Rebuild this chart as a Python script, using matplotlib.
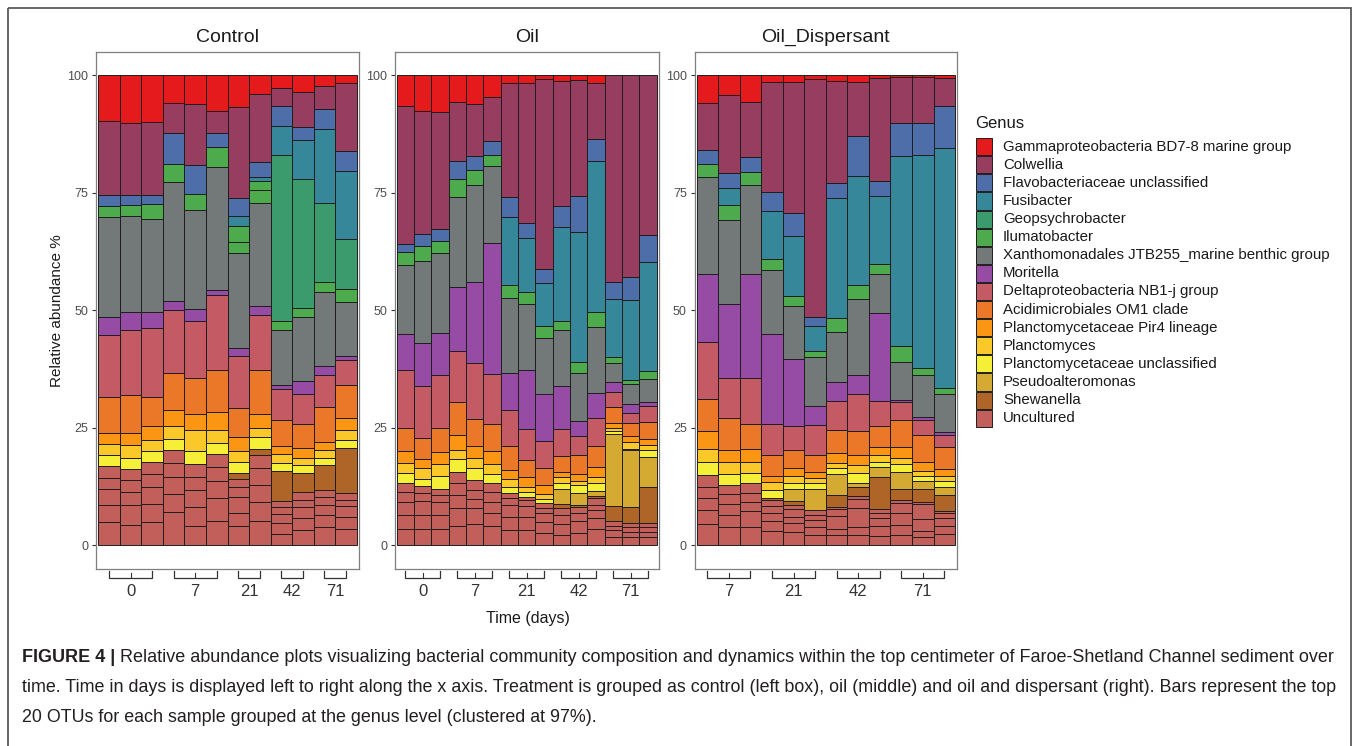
import numpy as np
import matplotlib
matplotlib.use("Agg")
import matplotlib.pyplot as plt
from matplotlib import font_manager
from matplotlib.patches import Rectangle
from matplotlib.transforms import blended_transform_factory

W, H, DPI = 1358, 746, 100

plt.rcParams["font.family"] = ["Liberation Sans", "DejaVu Sans"]

# ---------------------------------------------------------------- genera
genus_names = [
    "Gammaproteobacteria BD7-8 marine group",
    "Colwellia",
    "Flavobacteriaceae unclassified",
    "Fusibacter",
    "Geopsychrobacter",
    "Ilumatobacter",
    "Xanthomonadales JTB255_marine benthic group",
    "Moritella",
    "Deltaproteobacteria NB1-j group",
    "Acidimicrobiales OM1 clade",
    "Planctomycetaceae Pir4 lineage",
    "Planctomyces",
    "Planctomycetaceae unclassified",
    "Pseudoalteromonas",
    "Shewanella",
    "Uncultured",
]
genus_codes = "RCFBGIXMDOPLYAHU"
genus_colors = [
    "#E41A1C", "#973D5F", "#4E6EAA", "#37879B", "#3C9B6C", "#4DAA4D",
    "#737978", "#964BA5", "#C35A64", "#EB7828", "#FA9614", "#FAC828",
    "#F5F037", "#D4AA32", "#AF6428", "#C25F5A",
]

# ---------------------------------------------------------------- samples
# Each bar: OTU genus codes from bottom to top, and the cumulative relative
# abundance (%) reached at the top of each OTU.
control_days = ["0", "7", "21", "42", "71"]
control_group_sizes = [3, 3, 2, 2, 2]
control_bars = [
    ("UUUUUYLPODMXIFCR", [4.9, 8.5, 12.0, 14.4, 17.0, 19.3, 21.6, 24.0, 31.5, 44.7, 48.5, 69.9, 72.1, 74.5, 90.3, 100]),
    ("UUUUUYLPODMXIFCR", [4.4, 8.6, 11.4, 13.9, 16.2, 18.5, 21.3, 23.9, 31.9, 45.9, 49.7, 70.0, 72.4, 74.5, 89.7, 100]),
    ("UUUUUYLPODMXIFCR", [4.9, 8.8, 12.5, 15.2, 17.7, 20.0, 22.4, 25.3, 31.6, 46.2, 49.7, 69.5, 72.6, 74.5, 90.1, 100]),
    ("UUUUUYLPODMXIFCR", [7.2, 10.9, 14.6, 17.5, 20.2, 22.6, 25.3, 28.9, 36.7, 50.0, 52.0, 77.3, 81.0, 87.7, 94.1, 100]),
    ("UUUUUYLPODMXIFCR", [4.2, 8.1, 11.8, 14.6, 17.3, 20.1, 24.6, 27.9, 35.7, 47.7, 50.2, 71.3, 74.8, 80.9, 93.8, 100]),
    ("UUUUUYLPODMXIFCR", [5.3, 10.0, 13.6, 16.6, 19.4, 21.7, 24.6, 28.4, 37.4, 53.2, 54.4, 80.4, 84.8, 87.7, 92.3, 100]),
    ("UUUUUHYLPODMXIIBFCR", [4.2, 7.0, 10.4, 12.4, 14.1, 15.5, 17.7, 20.1, 23.1, 29.2, 40.3, 41.9, 62.1, 64.6, 68.0, 70.1, 73.9, 93.3, 100]),
    ("UUUUUHYLPODMXIIBFCR", [5.1, 9.3, 12.8, 16.4, 19.2, 20.6, 23.0, 24.9, 27.9, 37.4, 49.0, 50.9, 72.7, 75.6, 77.5, 78.4, 81.6, 95.9, 100]),
    ("UUUUUHYLPODMXIGBFCR", [2.4, 4.7, 6.6, 8.2, 9.5, 15.9, 17.5, 19.4, 21.2, 26.7, 33.2, 34.1, 45.7, 47.8, 83.1, 89.2, 93.5, 97.3, 100]),
    ("UUUUUHYLPODMXIGBFCR", [3.3, 5.8, 8.1, 9.7, 11.4, 15.3, 17.1, 18.7, 20.8, 25.8, 32.3, 35.0, 48.6, 50.4, 77.8, 86.2, 89.0, 96.3, 100]),
    ("UUUUUHYLPODMXIGBFCR", [4.0, 6.5, 8.6, 10.4, 11.8, 17.1, 18.5, 20.4, 22.1, 29.4, 36.2, 38.2, 53.8, 55.9, 72.7, 88.5, 92.7, 97.7, 100]),
    ("UUUUUHYLPODMXIGBFCR", [3.6, 6.1, 8.3, 9.7, 11.1, 20.8, 22.4, 24.5, 27.0, 34.1, 39.4, 40.3, 51.8, 54.5, 65.2, 79.7, 83.9, 98.4, 100]),
]

oil_days = ["0", "7", "21", "42", "71"]
oil_group_sizes = [3, 3, 3, 3, 3]
oil_bars = [
    ("UUUUUYLPODMXIFCR", [3.4, 6.5, 9.3, 11.4, 13.3, 15.5, 17.5, 20.1, 25.0, 37.3, 44.9, 59.6, 62.4, 64.0, 93.4, 100]),
    ("UUUUUYLPODMXIFCR", [3.4, 6.5, 9.5, 11.1, 12.7, 14.1, 16.4, 18.4, 22.8, 33.8, 43.1, 60.5, 63.7, 66.3, 92.4, 100]),
    ("UUUUUYLPODMXIFCR", [3.4, 6.5, 9.3, 10.7, 12.1, 14.8, 17.3, 19.8, 24.9, 36.2, 45.1, 62.1, 64.7, 67.2, 92.1, 100]),
    ("UUUUUYLPODMXIFCR", [4.2, 7.9, 10.7, 13.2, 15.7, 18.3, 20.4, 23.5, 30.4, 41.4, 55.0, 74.1, 77.8, 81.8, 94.3, 100]),
    ("UUUUUYLPODMXIFCR", [4.6, 7.9, 9.9, 11.8, 13.9, 16.4, 18.7, 21.2, 26.8, 38.7, 56.1, 76.6, 79.9, 82.8, 93.8, 100]),
    ("UUUUUYLPODMXIFCR", [4.2, 6.8, 9.3, 11.4, 13.3, 15.2, 17.3, 20.1, 25.8, 36.4, 64.4, 80.7, 83.1, 86.0, 95.3, 100]),
    ("UUUUUYLPODMXIBFCR", [3.3, 6.0, 8.6, 10.0, 11.1, 12.4, 14.1, 16.0, 21.1, 28.8, 36.6, 52.7, 55.4, 69.9, 74.1, 98.4, 100]),
    ("UUUUUYLPODMXIBFCR", [3.2, 6.1, 8.3, 9.7, 10.4, 11.4, 12.5, 14.6, 18.2, 24.7, 37.2, 51.3, 53.8, 65.3, 68.5, 98.4, 100]),
    ("UUUUUYLPODMXIBFCR", [2.6, 4.9, 6.8, 7.9, 9.0, 9.9, 10.9, 12.8, 16.4, 22.2, 32.1, 44.0, 46.6, 55.7, 58.8, 99.1, 100]),
    ("UUUUHAYLPODMXIBFCR", [2.2, 4.6, 6.5, 7.9, 8.8, 12.0, 13.3, 14.6, 15.7, 19.0, 24.7, 33.9, 45.7, 47.8, 67.8, 72.2, 98.7, 100]),
    ("UUUUHAYLPODMXIBFCR", [2.6, 5.1, 6.8, 8.1, 8.6, 11.1, 12.8, 13.6, 15.2, 19.2, 23.3, 26.5, 36.7, 39.1, 66.7, 74.3, 98.9, 100]),
    ("UUUUUHAYLPODMXIBFCR", [3.6, 5.8, 7.5, 8.6, 10.0, 10.5, 11.6, 13.3, 14.6, 16.7, 21.2, 27.0, 32.5, 46.5, 49.7, 81.8, 86.3, 98.4, 100]),
    ("UUUUHAYLPODMXIBFC", [1.8, 3.2, 4.2, 5.1, 8.3, 23.8, 24.3, 24.9, 26.0, 29.5, 32.6, 34.8, 38.7, 40.1, 52.3, 55.9, 100]),
    ("UUUUHAYLPODMXIBFC", [1.7, 2.9, 4.0, 4.8, 8.1, 20.2, 20.6, 21.9, 23.3, 26.0, 28.1, 30.1, 34.3, 35.2, 52.2, 57.0, 100]),
    ("UUUUHAYLPODMXIBFC", [1.7, 2.9, 4.0, 4.8, 12.5, 18.9, 20.3, 21.4, 22.6, 26.3, 29.6, 30.4, 35.3, 37.0, 60.2, 66.0, 100]),
]

dispersant_days = ["7", "21", "42", "71"]
dispersant_group_sizes = [3, 3, 3, 3]
dispersant_bars = [
    ("UUUUUYLPODMXIFCR", [4.6, 7.5, 10.0, 12.4, 15.0, 17.8, 20.5, 24.3, 31.1, 43.3, 57.8, 78.3, 81.0, 84.1, 94.0, 100]),
    ("UUUUUYLPODMXIBFCR", [3.9, 6.5, 8.8, 10.9, 12.8, 15.2, 17.8, 20.3, 27.0, 35.7, 51.3, 69.2, 72.4, 75.9, 79.1, 95.8, 100]),
    ("UUUUUYLPODMXIFCR", [4.0, 7.4, 9.3, 11.2, 13.2, 15.5, 17.7, 20.6, 25.9, 35.7, 57.8, 76.6, 79.3, 82.5, 94.3, 100]),
    ("UUUUUHYLPODMXIBFCR", [3.0, 5.1, 6.8, 8.4, 9.7, 10.0, 11.8, 13.4, 14.8, 19.2, 25.8, 44.9, 58.6, 60.8, 71.2, 75.2, 98.6, 100]),
    ("UUUUUHAYLPODMXIBFCR", [2.8, 4.7, 6.1, 7.7, 8.6, 9.5, 11.9, 13.3, 14.8, 16.4, 20.3, 25.4, 39.6, 50.9, 53.0, 65.8, 70.6, 98.6, 100]),
    ("UUUUUAYLPODMXIBFCR", [2.2, 4.0, 5.4, 6.5, 7.5, 11.9, 13.3, 14.3, 15.7, 19.2, 25.6, 29.6, 40.1, 41.3, 46.6, 48.6, 99.1, 100]),
    ("UUUUUHAYLPODMXIBFCR", [2.2, 3.6, 6.3, 7.7, 8.2, 10.7, 15.2, 16.5, 17.6, 19.6, 24.5, 30.7, 34.7, 45.3, 48.3, 73.8, 77.1, 98.8, 100]),
    ("UUUUUHAYLPODMXIBFCR", [2.2, 3.9, 7.9, 9.8, 10.5, 12.4, 13.3, 15.3, 17.2, 19.2, 24.3, 32.1, 36.2, 52.3, 55.4, 78.6, 87.0, 98.6, 100]),
    ("UUUUUHAYLPODMXIBFCR", [2.0, 4.1, 5.8, 6.8, 7.7, 14.5, 16.7, 17.8, 19.2, 21.0, 25.4, 30.7, 49.5, 57.8, 59.8, 74.2, 77.5, 99.3, 100]),
    ("UUUUUHAYLPODMXIBFCR", [2.2, 4.4, 6.8, 9.1, 9.7, 11.9, 15.6, 17.3, 18.5, 21.0, 26.7, 30.4, 30.9, 38.9, 42.5, 82.7, 89.9, 99.5, 100]),
    ("UUUUUHAYLPODMXIBFCR", [1.7, 3.1, 5.6, 8.8, 9.3, 12.1, 13.7, 14.8, 15.9, 17.8, 23.5, 26.7, 27.4, 36.2, 37.7, 83.0, 89.7, 99.5, 100]),
    ("UUUUUHAYLPODMXIBFCR", [2.4, 4.2, 5.8, 6.8, 7.4, 10.7, 12.4, 13.6, 14.8, 16.2, 21.0, 23.5, 24.2, 32.2, 33.4, 84.4, 93.5, 99.3, 100]),
]

panels = [
    ("Control", control_bars, control_days, control_group_sizes),
    ("Oil", oil_bars, oil_days, oil_group_sizes),
    ("Oil_Dispersant", dispersant_bars, dispersant_days, dispersant_group_sizes),
]

caption_bold = "FIGURE 4 |"
caption_lines = [
    " Relative abundance plots visualizing bacterial community composition and dynamics within the top centimeter of Faroe-Shetland Channel sediment over",
    "time. Time in days is displayed left to right along the x axis. Treatment is grouped as control (left box), oil (middle) and oil and dispersant (right). Bars represent the top",
    "20 OTUs for each sample grouped at the genus level (clustered at 97%).",
]

# ---------------------------------------------------------------- styling
color_of = dict(zip(genus_codes, genus_colors))
EDGE = "#1E1E1E"
FRAME = "#7F7F7F"
TEXT = "#1A1A1A"
TICK_TEXT = "#4D4D4D"

available = {f.name for f in font_manager.fontManager.ttflist}
NARROW = "Liberation Sans Narrow" if "Liberation Sans Narrow" in available else None

fig = plt.figure(figsize=(W / DPI, H / DPI), dpi=DPI)
fig.patch.set_facecolor("white")

# pixel-space overlay used for annotations
ov = fig.add_axes([0, 0, 1, 1])
ov.set_xlim(0, W)
ov.set_ylim(H, 0)
ov.axis("off")
ov.patch.set_alpha(0)

renderer = fig.canvas.get_renderer()


def text_width(s, size, **kw):
    t = ov.text(0, 0, s, fontsize=size, **kw)
    w = t.get_window_extent(renderer).width
    t.remove()
    return w


def fit_size(s, target, **kw):
    return 10.0 * target / text_width(s, 10.0, **kw)


# panel boxes in pixels: left, right
panel_x = [(96.2, 358.8), (395.0, 658.5), (694.5, 957.2)]
TOP, BOTTOM = 51.5, 569.0

for (title, bars, days, groups), (x0, x1) in zip(panels, panel_x):
    ax = fig.add_axes([x0 / W, 1 - BOTTOM / H, (x1 - x0) / W, (BOTTOM - TOP) / H])
    n = len(bars)
    for i, (codes, tops) in enumerate(bars):
        assert len(codes) == len(tops)
        tops = np.asarray(tops, dtype=float)
        bottoms = np.concatenate([[0.0], tops[:-1]])
        ax.bar(np.full(len(tops), i), tops - bottoms, bottom=bottoms, width=1.0,
               color=[color_of[c] for c in codes], edgecolor=EDGE, linewidth=0.7)
    ax.set_xlim(-0.6, n - 0.4)
    ax.set_ylim(-5, 105)
    ax.set_xticks([])
    ax.set_yticks([0, 25, 50, 75, 100])
    ax.tick_params(axis="y", length=3, width=0.8, color="#333333", pad=2.5,
                   labelsize=9, labelcolor=TICK_TEXT)
    for sp in ax.spines.values():
        sp.set_color(FRAME)
        sp.set_linewidth(0.9)

    ov.text((x0 + x1) / 2, 37, title, fontsize=14, ha="center", va="center", color=TEXT)

    # time-point brackets below the panel
    tr = blended_transform_factory(ax.transData, ov.transData)
    start = 0
    for day, k in zip(days, groups):
        idx = np.arange(start, start + k)
        xs = [idx[0], idx[0], idx[-1], idx[-1]]
        ys = [571, 578, 578, 571]
        ov.plot(xs, ys, color="#333333", lw=0.9, transform=tr, clip_on=False,
                solid_joinstyle="miter")
        for j in idx[1:-1]:
            ov.plot([j, j], [578, 572.5], color="#333333", lw=0.8, transform=tr, clip_on=False)
        kw = dict(family=NARROW, fontsize=13) if NARROW else dict(fontsize=12)
        ov.text(idx.mean(), 592, day, ha="center", va="center", color="#333333",
                transform=tr, **kw)
        start += k

ov.text(57, (TOP + BOTTOM) / 2, "Relative abundance %", rotation=90, fontsize=11,
        ha="center", va="center", color=TEXT)
ov.text(528, 618, "Time (days)", fontsize=11.5, ha="center", va="center", color=TEXT)

# ---------------------------------------------------------------- legend
ov.text(975, 123, "Genus", fontsize=12, ha="left", va="center", color=TEXT)
leg_size = fit_size(genus_names[6], 327)
for i, (name, col) in enumerate(zip(genus_names, genus_colors)):
    cy = 146.7 + 18.1 * i
    ov.add_patch(Rectangle((975.5, cy - 8.6), 16.5, 17.2, facecolor=col,
                           edgecolor=EDGE, linewidth=0.7))
    ov.text(1003, cy, name, fontsize=leg_size, ha="left", va="center", color=TEXT)

# ---------------------------------------------------------------- caption
CAP = "#231F20"
bold_w10 = text_width(caption_bold, 10, fontweight="bold")
rest_w10 = text_width(caption_lines[0], 10)
size1 = 10.0 * (1335 - 22) / (bold_w10 + rest_w10)
size2 = fit_size(caption_lines[1], 1336 - 22)
cap_y = [658, 688, 718]
tb = ov.text(22, cap_y[0], caption_bold, fontsize=size1, fontweight="bold",
             ha="left", va="center", color=CAP)
bw = tb.get_window_extent(renderer).width
ov.text(22 + bw, cap_y[0], caption_lines[0], fontsize=size1, ha="left", va="center", color=CAP)
ov.text(22, cap_y[1], caption_lines[1], fontsize=size2, ha="left", va="center", color=CAP)
ov.text(22, cap_y[2], caption_lines[2], fontsize=(size1 + size2) / 2, ha="left", va="center", color=CAP)

# outer frame
ov.add_patch(Rectangle((7.5, 7.5), W - 15, H + 20, fill=False, edgecolor="#5A5A5A",
                       linewidth=1.3, clip_on=False))

fig.savefig("out.png", dpi=DPI, facecolor="white")
